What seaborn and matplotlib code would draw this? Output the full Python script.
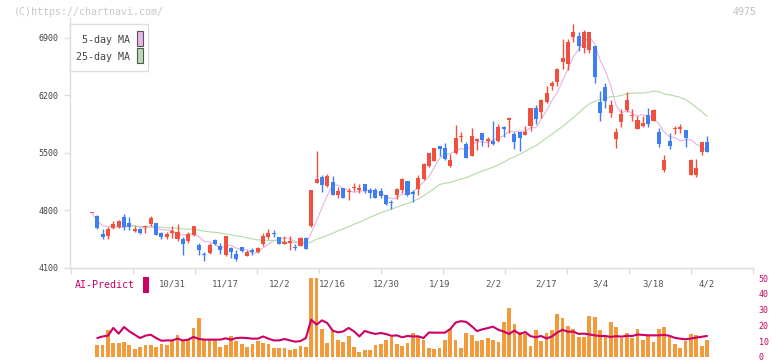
import numpy as np
import pandas as pd
import matplotlib
matplotlib.use("Agg")
import matplotlib.pyplot as plt
import seaborn as sns
from matplotlib.patches import Rectangle

# daily candles (oldest first)
opens = [4766, 4738, 4519, 4494, 4592, 4604, 4718, 4644, 4555, 4575,
         4600, 4636, 4644, 4531, 4482, 4531, 4454, 4458, 4434, 4502,
         4381, 4263, 4288, 4438, 4373, 4263, 4348, 4271, 4360, 4251,
         4316, 4299, 4397, 4474, 4519, 4474, 4397, 4409, 4353, 4369,
         4466, 4612, 5139, 5208, 5103, 5147, 4993, 5078, 5022, 5074,
         5050, 5123, 5050, 5050, 5038, 4989, 4896, 4989, 5050, 5160,
         5022, 5066, 5184, 5342, 5407, 5585, 5561, 5346, 5500, 5692,
         5610, 5468, 5646, 5744, 5646, 5646, 5646, 5817, 5902, 5731,
         5756, 5719, 5829, 6048, 5999, 6121, 6320, 6364, 6608, 6583,
         6908, 6924, 6774, 6754, 6807, 6121, 6300, 5991, 5673, 5880,
         6028, 5950, 5792, 5833, 5963, 5894, 5756, 5294, 5650, 5790,
         5797, 5780, 5233, 5233, 5517, 5634]
highs = [4766, 4750, 4571, 4596, 4669, 4685, 4754, 4718, 4612, 4592,
         4624, 4734, 4650, 4543, 4543, 4612, 4636, 4474, 4543, 4612,
         4409, 4296, 4409, 4458, 4409, 4494, 4360, 4320, 4360, 4320,
         4340, 4352, 4523, 4571, 4559, 4482, 4486, 4486, 4389, 4474,
         4474, 5050, 5525, 5237, 5249, 5220, 5091, 5078, 5070, 5131,
         5123, 5123, 5078, 5078, 5078, 4989, 4929, 5070, 5192, 5160,
         5050, 5232, 5383, 5500, 5561, 5585, 5622, 5484, 5837, 5756,
         5634, 5805, 5683, 5744, 5695, 5890, 5853, 5829, 5934, 5756,
         5756, 5829, 6048, 6084, 6157, 6316, 6377, 6535, 6888, 6888,
         7070, 6969, 6997, 6969, 6807, 6257, 6352, 6139, 5809, 6030,
         6243, 6032, 5951, 5951, 6048, 6036, 5805, 5476, 5748, 5829,
         5853, 5780, 5423, 5423, 5634, 5707]
lows = [4766, 4571, 4450, 4458, 4571, 4584, 4563, 4563, 4539, 4510,
        4531, 4612, 4500, 4458, 4458, 4470, 4434, 4263, 4409, 4490,
        4263, 4190, 4271, 4381, 4275, 4251, 4218, 4190, 4300, 4251,
        4255, 4279, 4369, 4450, 4478, 4397, 4389, 4316, 4316, 4369,
        4328, 4600, 5139, 5026, 5091, 4989, 4957, 4957, 4928, 5038,
        5018, 5010, 4957, 4949, 4949, 4868, 4819, 4937, 5010, 4981,
        4908, 4993, 5172, 5330, 5407, 5464, 5415, 5334, 5488, 5634,
        5443, 5468, 5541, 5589, 5577, 5602, 5638, 5695, 5744, 5549,
        5529, 5719, 5768, 5853, 5926, 6109, 6267, 6316, 6523, 6510,
        6855, 6746, 6713, 6721, 6356, 5888, 6044, 5932, 5565, 5821,
        6001, 5894, 5792, 5821, 5821, 5894, 5577, 5273, 5545, 5732,
        5748, 5577, 5233, 5212, 5476, 5517]
closes = [4766, 4592, 4482, 4575, 4636, 4673, 4604, 4596, 4575, 4531,
          4604, 4705, 4507, 4482, 4519, 4551, 4543, 4397, 4519, 4612,
          4324, 4258, 4381, 4397, 4320, 4494, 4291, 4210, 4312, 4300,
          4290, 4344, 4486, 4527, 4511, 4397, 4417, 4430, 4348, 4466,
          4336, 5050, 5184, 5115, 5220, 4989, 5038, 4957, 5038, 5078,
          5070, 5038, 5018, 4957, 4981, 4880, 4892, 5058, 5180, 4989,
          4997, 5196, 5366, 5500, 5561, 5553, 5427, 5415, 5683, 5695,
          5443, 5707, 5666, 5658, 5666, 5610, 5817, 5792, 5926, 5634,
          5683, 5756, 6048, 5914, 6145, 6231, 6352, 6523, 6656, 6851,
          6969, 6807, 6969, 6969, 6421, 5991, 6131, 6085, 5758, 5975,
          6145, 5955, 5902, 5870, 5853, 6024, 5610, 5415, 5586, 5795,
          5821, 5687, 5415, 5322, 5634, 5517]

# lower panel (starts with the second candle)
volume = [7.8, 7.8, 17.3, 9.1, 9.1, 9.7, 7.8, 5.3, 6.5, 7.8,
          7.8, 6.5, 8.4, 7.8, 10.3, 14.1, 11, 11, 18.6, 24.9,
          11, 11, 11.6, 6.5, 7.8, 13.5, 10.3, 8.4, 6.5, 8.4,
          10.3, 9.1, 8.4, 5.9, 5.9, 5.9, 4.6, 5.3, 7.2, 6.5,
          50, 50, 17.9, 9.1, 16.7, 11, 9.7, 13.5, 6.5, 3.4,
          4.2, 4.2, 7.5, 8, 10.5, 12.5, 8, 7, 9, 15,
          12.5, 11, 5.5, 5, 5.5, 10.5, 17.5, 11, 6, 15,
          14, 10, 11, 12, 11, 9.5, 22, 31, 21, 16,
          14.5, 7, 17, 10, 15, 17, 27.5, 25, 19.5, 17.5,
          12.5, 12.5, 26, 25.5, 17, 12.5, 22, 19, 12, 15,
          12, 17.5, 10.5, 14, 9.5, 18, 19, 12.5, 8, 6,
          10, 14.5, 14, 7, 10.5]
ai_predict = [12, 13, 13.5, 18.4, 14.8, 19, 16.2, 14.1, 12, 13.5,
              14.1, 12, 10.3, 10.5, 10.5, 11.6, 10.5, 11, 12.7, 11.4,
              11, 11, 11, 11, 11.8, 11, 12, 12.2, 12, 11.6,
              11.6, 13, 11.6, 10.5, 10.5, 11.4, 10.5, 9.7, 10.1, 12,
              23.6, 20.5, 23.2, 21.5, 16.7, 15.6, 16.2, 18.4, 16.2, 13,
              16.5, 15.4, 14.6, 15.2, 14.5, 13.4, 13.7, 12.5, 13.3, 13,
              13.1, 12, 15.5, 15.4, 15.4, 15.4, 17.7, 21.8, 22.7, 22.2,
              19.5, 16.4, 17.5, 18.3, 19.2, 17.2, 16.1, 14.6, 16.7, 14.5,
              15.8, 13.2, 12.5, 13.3, 11.7, 13, 15.5, 17.2, 16, 16.1,
              14.6, 14.8, 14.3, 13.7, 13.3, 13.3, 12.7, 13.2, 12.9, 13.4,
              13.3, 14.2, 14, 13.7, 13.7, 13.7, 14, 13.4, 12.1, 11.6,
              11.2, 11.7, 12.3, 12.8, 13.3]

date_labels = ['10/31', '11/17', '12/2', '12/16', '12/30', '1/19',
               '2/2', '2/17', '3/4', '3/18', '4/2']
date_index = [15, 25, 35, 45, 55, 65, 75, 85, 95, 105, 115]
price_ticks = [4100, 4800, 5500, 6200, 6900]
ai_ticks = [0, 10, 20, 30, 40, 50]

W, H = 772, 361
RED = '#f2503f'
BLUE = '#3d7ef0'
CRIMSON = '#cc0066'


def fx(px):
    return px / W


def fy(py):
    return 1 - py / H


df = pd.DataFrame({'O': opens, 'H': highs, 'L': lows, 'C': closes})
df['i'] = np.arange(len(df))
df['up'] = df['C'] >= df['O']
df['ma5'] = df['C'].rolling(5, min_periods=1).mean()
df['ma25'] = df['C'].rolling(25, min_periods=1).mean()

sub = pd.DataFrame({'i': np.arange(1, len(volume) + 1),
                    'vol': volume, 'ai': ai_predict})

sns.set_theme(style='white')
plt.rcParams['font.family'] = ['DejaVu Sans Mono', 'DejaVu Sans']

fig = plt.figure(figsize=(W / 100, H / 100), dpi=100)
ax = fig.add_axes([fx(70), fy(268), fx(753) - fx(70), fy(18) - fy(268)])
ax2 = fig.add_axes([fx(70), fy(357), fx(753) - fx(70), fy(278) - fy(357)])

# moving averages behind the candles
sns.lineplot(x=df['i'], y=df['ma5'], ax=ax, color='#e6b2e6', lw=0.8, zorder=1)
ma25 = df[df['i'] >= 7]
sns.lineplot(x=ma25['i'], y=ma25['ma25'], ax=ax, color='#b2dba6', lw=0.8, zorder=1)

# candles
colors = np.where(df['up'], RED, BLUE)
body_lo = df[['O', 'C']].min(axis=1)
body_h = (df['C'] - df['O']).abs().clip(lower=12)
ax.vlines(df['i'], df['L'], df['H'], colors=colors, lw=1.0, zorder=2)
ax.bar(df['i'], body_h, bottom=body_lo, width=0.76, color=colors,
       linewidth=0, zorder=3)

ax.set_xlim(-4.1, 123.6)
ax.set_ylim(4100, 7143)
ax.set_xlabel('')
ax.set_ylabel('')
ax.set_yticks(price_ticks)
ax.set_yticklabels([str(p) for p in price_ticks], fontsize=6, color='#444444')
ax.set_xticks(np.arange(-3.93, 124, 11.59))
ax.set_xticklabels([])
ax.tick_params(axis='both', which='both', direction='out', length=4,
               width=1, color='#dddddd', pad=4, left=True, bottom=True)
for s in ['top', 'right']:
    ax.spines[s].set_visible(False)
for s in ['left', 'bottom']:
    ax.spines[s].set_color('#dddddd')
    ax.spines[s].set_linewidth(1)
ax.patch.set_alpha(0)

# volume bars and AI-Predict line
sns.barplot(x=sub['i'], y=sub['vol'], ax=ax2, native_scale=True,
            color='#f39a3c', saturation=1, width=0.7, errorbar=None,
            linewidth=0, zorder=1)
sns.lineplot(x=sub['i'], y=sub['ai'], ax=ax2, color=CRIMSON, lw=1.5, zorder=3)
ax2.set_xlim(-4.1, 123.6)
ax2.set_ylim(0, 50)
ax2.set_xlabel('')
ax2.set_ylabel('')
ax2.set_xticks([])
ax2.yaxis.tick_right()
ax2.set_yticks(ai_ticks)
ax2.set_yticklabels([str(t) for t in ai_ticks], fontsize=6, color=CRIMSON)
ax2.tick_params(axis='y', length=0, pad=4)
for s in ax2.spines.values():
    s.set_visible(False)
ax2.patch.set_alpha(0)

for pos, lab in zip(date_index, date_labels):
    ax2.text(pos, 46.2, lab, ha='center', va='center', fontsize=6.5,
             color='#555555', zorder=4)

# AI-Predict key
fig.text(fx(75), fy(285), 'AI-Predict', ha='left', va='center',
         fontsize=7.2, color=CRIMSON)
fig.add_artist(Rectangle((fx(143), fy(293)), 6 / W, 16 / H,
                         transform=fig.transFigure, color=CRIMSON, lw=0))

# MA legend box
fig.add_artist(Rectangle((fx(70), fy(71)), 78 / W, 47 / H,
                         transform=fig.transFigure, facecolor='white',
                         edgecolor='#dddddd', lw=1, zorder=5))
fig.text(fx(130), fy(40), '5-day MA', ha='right', va='center',
         fontsize=7.2, color='#444444', zorder=6)
fig.text(fx(130), fy(57), '25-day MA', ha='right', va='center',
         fontsize=7.2, color='#444444', zorder=6)
fig.add_artist(Rectangle((fx(137), fy(46)), 5.5 / W, 15 / H,
                         transform=fig.transFigure, facecolor='#e8b6e8',
                         edgecolor='#555555', lw=0.8, zorder=6))
fig.add_artist(Rectangle((fx(137), fy(63)), 5.5 / W, 15 / H,
                         transform=fig.transFigure, facecolor='#b8dcae',
                         edgecolor='#555555', lw=0.8, zorder=6))

# header texts
fig.text(fx(14), fy(12), '(C)https://chartnavi.com/', ha='left', va='center',
         fontsize=7.2, color='#c8c8c8')
fig.text(fx(757), fy(12), '4975', ha='right', va='center',
         fontsize=7.2, color='#c0c0c0')

fig.savefig('out.png', dpi=100)
